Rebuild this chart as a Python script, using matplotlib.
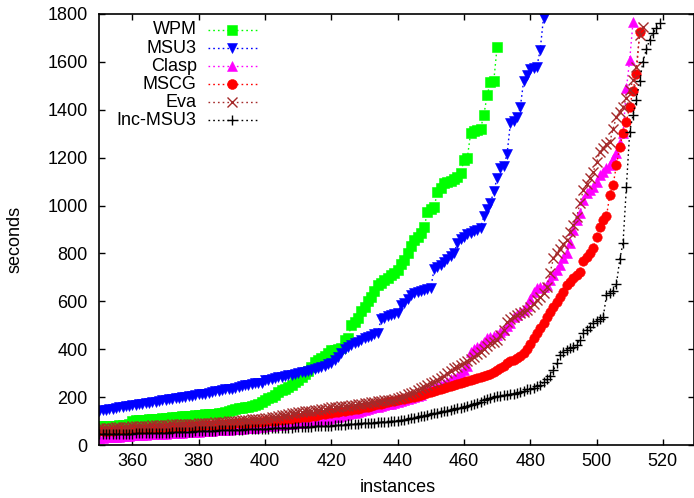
import numpy as np
import matplotlib
matplotlib.use("Agg")
import matplotlib.pyplot as plt

plt.rcParams['font.family'] = ['Liberation Sans', 'DejaVu Sans']

# sorted run times (seconds), one value per instance, starting at instance 350
first_instance = 350

wpm = [78, 78, 78, 79, 79, 80, 82, 84, 85, 86,
       100, 103, 104, 105, 106, 107, 108, 109, 110, 111,
       112, 114, 116, 117, 118, 120, 121, 122, 123, 124,
       126, 127, 128, 129, 130, 131, 132, 134, 136, 140,
       146, 150, 153, 156, 158, 160, 163, 167, 172, 180,
       188, 195, 202, 210, 220, 228, 236, 244, 252, 262,
       272, 285, 298, 310, 325, 345, 355, 362, 370, 385,
       395, 398, 400, 405, 440, 448, 500, 515, 530, 560,
       578, 600, 620, 645, 668, 678, 688, 697, 708, 718,
       731, 755, 772, 801, 830, 856, 870, 885, 909, 974,
       985, 995, 1055, 1075, 1095, 1100, 1104, 1109, 1120, 1134,
       1190, 1197, 1301, 1311, 1315, 1320, 1378, 1461, 1517, 1520,
       1663]

msu3 = [142, 145, 148, 150, 152, 155, 157, 160, 162, 164,
        166, 168, 170, 172, 174, 176, 178, 181, 184, 187,
        190, 192, 194, 196, 198, 200, 202, 204, 206, 208,
        211, 213, 215, 218, 221, 224, 227, 230, 232, 234,
        236, 240, 243, 246, 249, 252, 255, 257, 258, 260,
        270, 273, 276, 279, 282, 285, 288, 291, 294, 297,
        300, 303, 306, 310, 314, 318, 322, 327, 332, 337,
        341, 355, 369, 385, 400, 410, 418, 425, 431, 438,
        445, 452, 457, 463, 467, 525, 532, 538, 543, 547,
        550, 585, 592, 610, 626, 635, 640, 645, 648, 652,
        656, 735, 742, 750, 765, 778, 790, 800, 845, 860,
        870, 880, 886, 892, 897, 905, 955, 985, 1010, 1060,
        1114, 1155, 1165, 1214, 1343, 1352, 1368, 1410, 1520, 1545,
        1570, 1576, 1580, 1650, 1785]

clasp = [30, 31, 32, 32, 33, 34, 35, 36, 37, 38,
         40, 41, 42, 42, 43, 44, 45, 46, 46, 47,
         48, 49, 50, 51, 51, 52, 53, 54, 54, 55,
         56, 57, 58, 59, 60, 61, 62, 63, 63, 64,
         65, 66, 67, 68, 70, 71, 72, 73, 75, 76,
         78, 79, 80, 82, 83, 85, 86, 87, 89, 90,
         92, 94, 96, 98, 100, 102, 104, 106, 108, 110,
         111, 115, 118, 121, 124, 128, 132, 135, 138, 142,
         146, 150, 154, 157, 160, 163, 167, 170, 173, 177,
         181, 185, 189, 193, 197, 202, 205, 208, 230, 234,
         237, 240, 245, 250, 255, 265, 275, 280, 285, 300,
         313, 330, 390, 400, 408, 417, 430, 445, 452, 455,
         459, 470, 480, 495, 510, 536, 545, 555, 564, 580,
         610, 640, 654, 658, 661, 668, 689, 710, 731, 750,
         780, 800, 842, 900, 940, 967, 1023, 1051, 1065, 1078,
         1100, 1127, 1140, 1155, 1169, 1195, 1218, 1260, 1301, 1489,
         1608, 1767]

mscg = [58, 59, 59, 60, 60, 61, 62, 62, 63, 64,
        65, 65, 66, 67, 68, 69, 70, 71, 72, 73,
        73, 74, 75, 76, 77, 77, 78, 79, 80, 80,
        81, 82, 83, 84, 84, 85, 86, 87, 87, 88,
        89, 90, 91, 92, 93, 94, 95, 96, 97, 98,
        99, 100, 101, 102, 104, 105, 107, 108, 109, 111,
        113, 115, 117, 119, 121, 123, 126, 128, 130, 132,
        135, 137, 139, 141, 143, 145, 148, 150, 152, 155,
        157, 160, 163, 166, 170, 173, 176, 179, 182, 185,
        188, 191, 194, 197, 200, 202, 206, 210, 214, 218,
        223, 227, 231, 235, 240, 244, 248, 252, 256, 260,
        264, 268, 272, 276, 280, 285, 288, 292, 297, 305,
        313, 322, 330, 341, 350, 356, 362, 372, 383, 400,
        423, 445, 466, 487, 508, 536, 556, 577, 598, 619,
        640, 668, 680, 696, 710, 724, 770, 786, 800, 821,
        870, 912, 940, 956, 1044, 1086, 1169, 1245, 1301, 1350,
        1413, 1480, 1549, 1726]

eva = [70, 71, 72, 72, 73, 74, 75, 75, 76, 77,
       78, 78, 79, 80, 80, 81, 82, 83, 83, 84,
       85, 85, 86, 86, 87, 87, 88, 88, 89, 89,
       90, 91, 92, 93, 94, 95, 96, 97, 98, 99,
       100, 101, 102, 103, 104, 106, 107, 108, 109, 110,
       112, 114, 116, 118, 121, 124, 127, 130, 132, 134,
       136, 138, 140, 142, 144, 146, 148, 150, 152, 154,
       157, 158, 160, 161, 163, 165, 166, 168, 170, 172,
       174, 176, 178, 180, 182, 184, 186, 188, 190, 192,
       195, 200, 206, 212, 218, 223, 230, 237, 244, 250,
       257, 264, 271, 280, 290, 299, 310, 320, 327, 334,
       341, 350, 360, 369, 380, 390, 400, 412, 425, 432,
       440, 460, 480, 515, 525, 535, 542, 550, 557, 564,
       578, 590, 605, 620, 633, 661, 720, 780, 800, 820,
       840, 856, 890, 920, 953, 1010, 1065, 1090, 1115, 1141,
       1180, 1225, 1240, 1255, 1266, 1320, 1371, 1390, 1413, 1450,
       1482, 1524, 1580, 1712, 1747]

inc_msu3 = [45, 45, 46, 46, 46, 47, 47, 47, 48, 48,
            48, 49, 49, 49, 50, 50, 50, 51, 51, 51,
            52, 52, 53, 53, 54, 54, 55, 55, 56, 57,
            58, 58, 59, 59, 60, 60, 61, 61, 62, 62,
            63, 63, 64, 64, 65, 65, 66, 66, 67, 67,
            68, 68, 69, 70, 70, 71, 72, 72, 73, 74,
            74, 75, 76, 76, 77, 78, 78, 79, 80, 80,
            81, 82, 83, 84, 85, 86, 87, 88, 89, 90,
            91, 92, 93, 94, 95, 96, 97, 98, 99, 100,
            102, 104, 106, 108, 111, 114, 117, 120, 123, 126,
            129, 132, 135, 138, 141, 144, 147, 150, 153, 156,
            159, 162, 166, 170, 174, 180, 186, 192, 196, 200,
            203, 205, 208, 210, 212, 215, 218, 222, 227, 232,
            236, 240, 245, 250, 262, 275, 290, 313, 341, 376,
            390, 398, 404, 410, 417, 440, 466, 480, 494, 508,
            518, 526, 533, 626, 635, 645, 672, 775, 845, 1078,
            1308, 1378, 1440, 1520, 1600, 1652, 1691, 1719, 1740, 1761]

names = ['WPM', 'MSU3', 'Clasp', 'MSCG', 'Eva', 'Inc-MSU3']
series = [wpm, msu3, clasp, mscg, eva, inc_msu3]
colors = ['#00ff00', '#0000ff', '#ff00ff', '#ff0000', '#a52a2a', '#000000']
markers = ['s', 'v', '^', 'o', 'x', '+']
msizes = [6.8, 6.6, 6.6, 6.8, 7.2, 7.2]

fig = plt.figure(figsize=(6.94, 4.98), dpi=100)
ax = fig.add_axes([0.1431, 0.1064, 0.8569, 0.8655])

dots = (0, (1.2, 2.2))
for name, ys, c, m, ms in zip(names, series, colors, markers, msizes):
    xs = np.arange(first_instance, first_instance + len(ys))
    filled = m not in ('x', '+')
    ax.plot(xs, ys, color=c, linestyle=dots, linewidth=1.0,
            marker=m, markersize=ms, markerfacecolor=c, markeredgecolor=c,
            markeredgewidth=0.4 if filled else 1.0, label=name)

ax.set_xlim(350, 529.4)
ax.set_ylim(0, 1800)
ax.set_xticks(np.arange(360, 521, 20))
ax.set_yticks(np.arange(0, 1801, 200))
ax.tick_params(direction='in', length=4, width=1, top=True, right=True,
               labelsize=13)
ax.tick_params(axis='x', pad=6)
ax.tick_params(axis='y', pad=8.5)
for sp in ax.spines.values():
    sp.set_linewidth(1.2)

ax.set_xlabel('instances', fontsize=13)
ax.set_ylabel('seconds', fontsize=13)
ax.xaxis.set_label_coords(0.502, -0.08)
ax.yaxis.set_label_coords(-0.127, 0.476)

# key in the gnuplot style: label on the left, sample on the right
for i, (name, c, m, ms) in enumerate(zip(names, colors, markers, msizes)):
    yk = 1 - (16 + 18.1 * i) / 431
    ax.text(0.1638, yk, name, transform=ax.transAxes, ha='right', va='center',
            fontsize=13)
    ax.plot([0.1828, 0.2652], [yk, yk], transform=ax.transAxes, color=c,
            linestyle=dots, linewidth=1.0)
    filled = m not in ('x', '+')
    ax.plot([0.2236], [yk], transform=ax.transAxes, color=c, marker=m,
            markersize=ms * 1.05, markeredgewidth=0.4 if filled else 1.0)

fig.savefig('out.png', dpi=100)
